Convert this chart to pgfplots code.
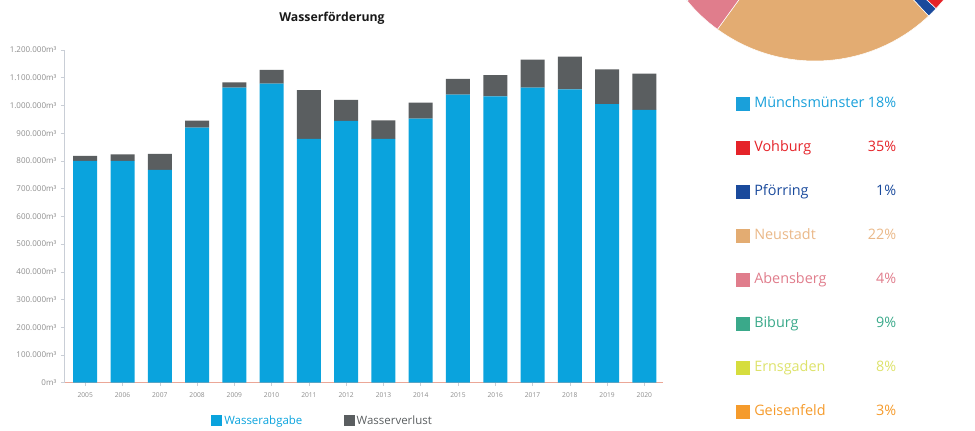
\documentclass[border=0pt]{standalone}
\usepackage{pgfplots}
\pgfplotsset{compat=1.18}
\usepackage{fontspec}
\setmainfont{Open Sans}
\definecolor{wblue}{HTML}{0AA3DD}
\definecolor{wgrey}{HTML}{5A5E60}
\definecolor{tickgrey}{HTML}{8C8C8C}
\definecolor{xline}{HTML}{EBA797}
\definecolor{yline}{HTML}{C9CED6}
\definecolor{cM}{HTML}{1AA0DA}
\definecolor{cV}{HTML}{E52329}
\definecolor{cP}{HTML}{1A4A9C}
\definecolor{cN}{HTML}{E3AC72}
\definecolor{cA}{HTML}{E07D8C}
\definecolor{cB}{HTML}{3AA98A}
\definecolor{cE}{HTML}{D6DD3E}
\definecolor{cG}{HTML}{F59B2C}
\definecolor{tN}{HTML}{EAB888}
\definecolor{tE}{HTML}{DDE26A}

\pgfplotstableread{
x abgabe verlust
0  799700  18000
1  800000  23800
2  767200  57700
3  919700  25300
4  1064000 19500
5  1078400 49500
6  879000  176700
7  943900  75800
8  879000  67400
9  952200  57700
10 1038800 56600
11 1033000 76800
12 1064000 101000
13 1058300 117500
14 1005200 125200
15 983600  130900
}\wasser

\begin{document}
\begin{tikzpicture}
\useasboundingbox (0,0) rectangle (731.25pt,322.5pt);
\clip (0,0) rectangle (731.25pt,322.5pt);

\node[font=\bfseries\fontsize{9.2}{11}\selectfont, text={black!90}] at (249pt,309pt) {Wasserförderung};

\begin{axis}[
  at={(48pt,35.5pt)}, anchor=south west,
  scale only axis, width=449.25pt, height=249.5pt,
  ybar stacked, bar width=18pt,
  xmin=-0.57, xmax=15.5, ymin=0, ymax=1200000,
  axis x line=bottom, axis y line=left,
  x axis line style={draw=xline, -},
  y axis line style={draw=yline, -},
  xtick={0,...,15},
  xticklabels={2005,2006,2007,2008,2009,2010,2011,2012,2013,2014,2015,2016,2017,2018,2019,2020},
  ytick={0,100000,200000,300000,400000,500000,600000,700000,800000,900000,1000000,1100000,1200000},
  yticklabels={0m³,100.000m³,200.000m³,300.000m³,400.000m³,500.000m³,600.000m³,700.000m³,800.000m³,900.000m³,1.000.000m³,1.100.000m³,1.200.000m³},
  scaled y ticks=false,
  tick align=outside, major tick length=2.25pt,
  tick style={draw=yline, thin},
  x tick label style={font=\fontsize{5}{6}\selectfont, text=tickgrey, yshift=-2pt},
  y tick label style={font=\fontsize{6}{7}\selectfont, text=tickgrey},
  legend style={at={(0.43,-0.115)}, anchor=center, legend columns=2, draw=none, fill=none,
    font=\fontsize{8.6}{10}\selectfont, nodes={inner sep=0pt},
    /tikz/every odd column/.append style={column sep=1.5pt},
    /tikz/every even column/.append style={column sep=31pt}},
  legend image code/.code={\fill[#1, draw=none] (0pt,-4.1pt) rectangle (8.25pt,4.1pt);},
]
\addplot[fill=wblue, draw=none] table[x=x, y=abgabe] {\wasser};
\addlegendentry{\textcolor{wblue}{Wasserabgabe}}
\addplot[fill=wgrey, draw=none] table[x=x, y=verlust] {\wasser};
\addlegendentry{\textcolor{wgrey}{Wasserverlust}}
\end{axis}

\begin{axis}[
  at={(611.25pt,401.25pt)}, anchor=center,
  scale only axis, width=249pt, height=249pt,
  xmin=-1, xmax=1, ymin=-1, ymax=1, hide axis, clip=false,
  legend cell align=left,
  legend style={at={(0.262,-0.109)}, anchor=north west, draw=none, fill=none,
    font=\fontsize{10.8}{12}\selectfont, inner sep=0pt, row sep=22.5pt,
    nodes={inner sep=0pt, text height=7.7pt, text depth=2.6pt},
    /tikz/every odd column/.append style={column sep=3pt}},
  legend image code/.code={\fill[#1, draw=none] (0pt,-5.25pt) rectangle (10.5pt,5.25pt);},
]
\addlegendimage{fill=cM, draw=none}\addlegendentry{\textcolor{cM}{\makebox[106.5pt][l]{Münchsmünster\hfill 18\%}}}
\addlegendimage{fill=cV, draw=none}\addlegendentry{\textcolor{cV}{\makebox[106.5pt][l]{Vohburg\hfill 35\%}}}
\addlegendimage{fill=cP, draw=none}\addlegendentry{\textcolor{cP}{\makebox[106.5pt][l]{Pförring\hfill 1\%}}}
\addlegendimage{fill=cN, draw=none}\addlegendentry{\textcolor{tN}{\makebox[106.5pt][l]{Neustadt\hfill 22\%}}}
\addlegendimage{fill=cA, draw=none}\addlegendentry{\textcolor{cA}{\makebox[106.5pt][l]{Abensberg\hfill 4\%}}}
\addlegendimage{fill=cB, draw=none}\addlegendentry{\textcolor{cB}{\makebox[106.5pt][l]{Biburg\hfill 9\%}}}
\addlegendimage{fill=cE, draw=none}\addlegendentry{\textcolor{tE}{\makebox[106.5pt][l]{Ernsgaden\hfill 8\%}}}
\addlegendimage{fill=cG, draw=none}\addlegendentry{\textcolor{cG}{\makebox[106.5pt][l]{Geisenfeld\hfill 3\%}}}
% pie slices (shares 18,35,1,22,4,9,8,3 %), clockwise
\fill[cM, draw=white] (axis cs:0,0) -- ++(147.6:124.5pt) arc[start angle=147.6, end angle=82.8, radius=124.5pt] -- cycle;
\fill[cV, draw=white] (axis cs:0,0) -- ++(82.8:124.5pt) arc[start angle=82.8, end angle=-43.2, radius=124.5pt] -- cycle;
\fill[cP, draw=white] (axis cs:0,0) -- ++(-43.2:124.5pt) arc[start angle=-43.2, end angle=-46.8, radius=124.5pt] -- cycle;
\fill[cN, draw=white] (axis cs:0,0) -- ++(-46.8:124.5pt) arc[start angle=-46.8, end angle=-126, radius=124.5pt] -- cycle;
\fill[cA, draw=white] (axis cs:0,0) -- ++(234:124.5pt) arc[start angle=234, end angle=219.6, radius=124.5pt] -- cycle;
\fill[cB, draw=white] (axis cs:0,0) -- ++(219.6:124.5pt) arc[start angle=219.6, end angle=187.2, radius=124.5pt] -- cycle;
\fill[cE, draw=white] (axis cs:0,0) -- ++(187.2:124.5pt) arc[start angle=187.2, end angle=158.4, radius=124.5pt] -- cycle;
\fill[cG, draw=white] (axis cs:0,0) -- ++(158.4:124.5pt) arc[start angle=158.4, end angle=147.6, radius=124.5pt] -- cycle;
\end{axis}
\end{tikzpicture}
\end{document}
